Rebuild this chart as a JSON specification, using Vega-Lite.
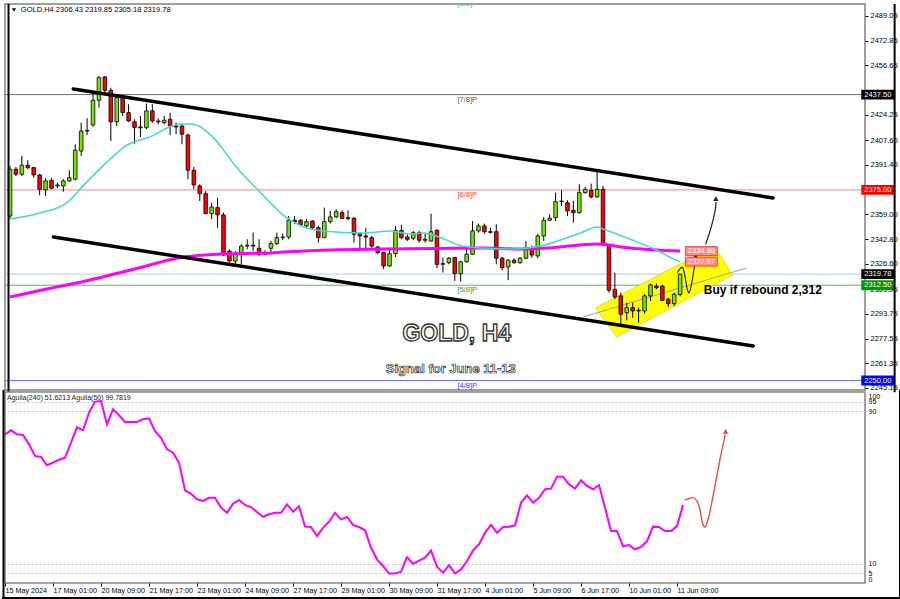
{
"$schema":"https://vega.github.io/schema/vega-lite/v6.json",
"padding":{"left":0,"top":2,"right":0,"bottom":0},
"background":"#ffffff",
"spacing":2,
"bounds":"flush",
"config":{
"view":{"stroke":"#808080","strokeWidth":1.5},
"axis":{"labelFont":"Liberation Sans","labelColor":"#000000","tickColor":"#000000","domain":false,"grid":false,"labelOverlap":false,"labelBound":false},
"text":{"font":"Liberation Sans"}
},
"datasets":{
"candles":[
{"i":0,"o":2357.9,"h":2390.7,"l":2356.0,"c":2388.5},
{"i":1,"o":2388.5,"h":2390.0,"l":2384.1,"c":2385.3},
{"i":2,"o":2385.3,"h":2397.3,"l":2384.1,"c":2391.2},
{"i":3,"o":2391.2,"h":2394.4,"l":2388.5,"c":2389.6},
{"i":4,"o":2389.6,"h":2390.0,"l":2383.0,"c":2384.8},
{"i":5,"o":2384.8,"h":2385.3,"l":2371.5,"c":2375.4},
{"i":6,"o":2375.0,"h":2382.6,"l":2371.0,"c":2380.9},
{"i":7,"o":2381.3,"h":2382.6,"l":2375.4,"c":2376.1},
{"i":8,"o":2377.6,"h":2379.7,"l":2376.1,"c":2378.2},
{"i":9,"o":2377.6,"h":2382.0,"l":2373.8,"c":2380.9},
{"i":10,"o":2380.9,"h":2387.9,"l":2380.4,"c":2383.0},
{"i":11,"o":2382.0,"h":2404.9,"l":2381.3,"c":2401.0},
{"i":12,"o":2400.5,"h":2419.1,"l":2397.3,"c":2413.6},
{"i":13,"o":2413.6,"h":2422.0,"l":2411.0,"c":2414.1},
{"i":14,"o":2417.6,"h":2438.1,"l":2416.3,"c":2433.8},
{"i":15,"o":2433.8,"h":2449.7,"l":2428.9,"c":2448.6},
{"i":16,"o":2449.1,"h":2449.7,"l":2438.8,"c":2440.3},
{"i":17,"o":2440.3,"h":2442.0,"l":2407.1,"c":2419.6},
{"i":18,"o":2419.6,"h":2437.7,"l":2416.9,"c":2435.5},
{"i":19,"o":2435.5,"h":2436.6,"l":2423.5,"c":2425.7},
{"i":20,"o":2425.7,"h":2431.2,"l":2419.7,"c":2420.2},
{"i":21,"o":2419.7,"h":2421.3,"l":2405.3,"c":2415.8},
{"i":22,"o":2416.3,"h":2423.5,"l":2409.7,"c":2415.6},
{"i":23,"o":2415.8,"h":2431.6,"l":2414.8,"c":2426.8},
{"i":24,"o":2426.8,"h":2431.2,"l":2419.1,"c":2420.2},
{"i":25,"o":2419.6,"h":2422.0,"l":2418.0,"c":2420.2},
{"i":26,"o":2419.1,"h":2423.5,"l":2418.0,"c":2420.7},
{"i":27,"o":2421.3,"h":2425.7,"l":2411.0,"c":2416.9},
{"i":28,"o":2416.9,"h":2419.1,"l":2411.5,"c":2416.3},
{"i":29,"o":2416.9,"h":2418.0,"l":2404.9,"c":2411.5},
{"i":30,"o":2411.0,"h":2411.9,"l":2382.0,"c":2387.9},
{"i":31,"o":2387.9,"h":2390.0,"l":2375.4,"c":2378.2},
{"i":32,"o":2377.6,"h":2378.7,"l":2367.7,"c":2372.5},
{"i":33,"o":2372.5,"h":2374.3,"l":2359.0,"c":2359.4},
{"i":34,"o":2359.4,"h":2366.6,"l":2355.8,"c":2363.8},
{"i":35,"o":2363.4,"h":2369.9,"l":2350.2,"c":2358.6},
{"i":36,"o":2358.6,"h":2360.1,"l":2331.7,"c":2332.3},
{"i":37,"o":2334.9,"h":2336.1,"l":2327.3,"c":2328.4},
{"i":38,"o":2328.4,"h":2334.9,"l":2326.2,"c":2333.5},
{"i":39,"o":2333.2,"h":2339.4,"l":2326.2,"c":2338.2},
{"i":40,"o":2338.2,"h":2342.6,"l":2336.1,"c":2338.7},
{"i":41,"o":2338.7,"h":2347.0,"l":2334.9,"c":2338.2},
{"i":42,"o":2336.7,"h":2342.6,"l":2331.7,"c":2332.8},
{"i":43,"o":2332.8,"h":2335.4,"l":2332.3,"c":2333.7},
{"i":44,"o":2336.7,"h":2341.5,"l":2332.8,"c":2339.8},
{"i":45,"o":2339.8,"h":2347.0,"l":2338.9,"c":2343.7},
{"i":46,"o":2343.7,"h":2346.3,"l":2342.0,"c":2344.1},
{"i":47,"o":2344.1,"h":2357.9,"l":2342.6,"c":2355.1},
{"i":48,"o":2355.1,"h":2357.9,"l":2352.5,"c":2354.0},
{"i":49,"o":2355.1,"h":2355.8,"l":2351.4,"c":2352.0},
{"i":50,"o":2351.4,"h":2355.8,"l":2350.2,"c":2354.2},
{"i":51,"o":2354.6,"h":2355.1,"l":2349.2,"c":2350.2},
{"i":52,"o":2350.2,"h":2351.4,"l":2340.4,"c":2343.7},
{"i":53,"o":2343.7,"h":2363.4,"l":2343.3,"c":2354.2},
{"i":54,"o":2354.2,"h":2361.2,"l":2352.9,"c":2357.3},
{"i":55,"o":2357.3,"h":2362.3,"l":2356.4,"c":2360.7},
{"i":56,"o":2360.1,"h":2361.6,"l":2355.8,"c":2356.4},
{"i":57,"o":2356.8,"h":2361.6,"l":2355.1,"c":2356.2},
{"i":58,"o":2356.4,"h":2357.3,"l":2340.4,"c":2345.9},
{"i":59,"o":2346.3,"h":2347.0,"l":2334.9,"c":2344.8},
{"i":60,"o":2344.8,"h":2350.2,"l":2334.9,"c":2344.1},
{"i":61,"o":2343.7,"h":2344.8,"l":2337.1,"c":2338.2},
{"i":62,"o":2337.6,"h":2338.2,"l":2332.8,"c":2333.9},
{"i":63,"o":2333.9,"h":2334.5,"l":2323.0,"c":2325.1},
{"i":64,"o":2325.1,"h":2337.1,"l":2324.5,"c":2333.2},
{"i":65,"o":2333.2,"h":2351.4,"l":2331.0,"c":2348.5},
{"i":66,"o":2348.5,"h":2352.0,"l":2342.6,"c":2343.7},
{"i":67,"o":2344.1,"h":2345.9,"l":2341.5,"c":2342.6},
{"i":68,"o":2343.3,"h":2348.1,"l":2342.0,"c":2347.0},
{"i":69,"o":2347.0,"h":2348.1,"l":2340.4,"c":2342.0},
{"i":70,"o":2342.0,"h":2347.0,"l":2340.4,"c":2342.6},
{"i":71,"o":2341.5,"h":2359.4,"l":2341.1,"c":2347.6},
{"i":72,"o":2348.5,"h":2349.2,"l":2323.6,"c":2326.2},
{"i":73,"o":2326.2,"h":2330.6,"l":2320.8,"c":2326.7},
{"i":74,"o":2327.3,"h":2331.0,"l":2326.2,"c":2330.2},
{"i":75,"o":2330.6,"h":2331.0,"l":2315.3,"c":2320.1},
{"i":76,"o":2320.1,"h":2328.4,"l":2314.8,"c":2327.9},
{"i":77,"o":2327.9,"h":2337.1,"l":2327.3,"c":2332.8},
{"i":78,"o":2332.8,"h":2354.6,"l":2332.3,"c":2348.1},
{"i":79,"o":2348.1,"h":2352.9,"l":2347.0,"c":2351.4},
{"i":80,"o":2351.4,"h":2352.9,"l":2346.3,"c":2347.6},
{"i":81,"o":2347.6,"h":2350.2,"l":2346.3,"c":2347.2},
{"i":82,"o":2347.6,"h":2352.5,"l":2326.2,"c":2330.2},
{"i":83,"o":2330.2,"h":2331.0,"l":2322.3,"c":2324.0},
{"i":84,"o":2324.5,"h":2329.5,"l":2315.8,"c":2328.9},
{"i":85,"o":2328.9,"h":2330.2,"l":2326.6,"c":2327.3},
{"i":86,"o":2327.3,"h":2331.0,"l":2326.6,"c":2330.2},
{"i":87,"o":2330.2,"h":2341.5,"l":2329.5,"c":2337.1},
{"i":88,"o":2337.1,"h":2338.5,"l":2330.5,"c":2332.3},
{"i":89,"o":2331.7,"h":2346.3,"l":2330.2,"c":2344.8},
{"i":90,"o":2344.8,"h":2357.3,"l":2341.5,"c":2355.1},
{"i":91,"o":2355.1,"h":2359.0,"l":2354.6,"c":2356.4},
{"i":92,"o":2356.8,"h":2373.2,"l":2354.6,"c":2367.3},
{"i":93,"o":2367.3,"h":2374.8,"l":2364.5,"c":2367.7},
{"i":94,"o":2366.6,"h":2368.2,"l":2357.9,"c":2361.2},
{"i":95,"o":2361.6,"h":2367.7,"l":2353.5,"c":2360.1},
{"i":96,"o":2360.1,"h":2378.7,"l":2359.4,"c":2373.2},
{"i":97,"o":2373.2,"h":2376.9,"l":2372.5,"c":2375.4},
{"i":98,"o":2374.8,"h":2379.1,"l":2369.5,"c":2370.4},
{"i":99,"o":2370.4,"h":2387.4,"l":2369.9,"c":2375.4},
{"i":100,"o":2375.4,"h":2377.6,"l":2338.2,"c":2339.4},
{"i":101,"o":2338.9,"h":2339.4,"l":2307.6,"c":2309.2},
{"i":102,"o":2309.8,"h":2320.7,"l":2303.3,"c":2304.8},
{"i":103,"o":2305.5,"h":2307.6,"l":2286.9,"c":2293.5},
{"i":104,"o":2294.5,"h":2301.1,"l":2289.5,"c":2297.8},
{"i":105,"o":2297.8,"h":2301.1,"l":2291.2,"c":2295.6},
{"i":106,"o":2295.6,"h":2297.8,"l":2287.9,"c":2296.1},
{"i":107,"o":2295.6,"h":2306.6,"l":2293.9,"c":2305.5},
{"i":108,"o":2305.5,"h":2313.5,"l":2302.2,"c":2312.7},
{"i":109,"o":2312.0,"h":2313.5,"l":2309.8,"c":2310.9},
{"i":110,"o":2312.0,"h":2312.7,"l":2302.2,"c":2302.6},
{"i":111,"o":2303.3,"h":2304.3,"l":2298.2,"c":2300.4},
{"i":112,"o":2300.4,"h":2307.6,"l":2298.9,"c":2306.6},
{"i":113,"o":2306.43,"h":2319.85,"l":2305.18,"c":2319.78}
],
"cyan":[
{"i":0,"p":2356.0},{"i":5,"p":2359.9},{"i":9.5,"p":2366.4},{"i":12.8,"p":2379.6},{"i":16.2,"p":2392.7},{"i":19.5,"p":2403.8},{"i":24,"p":2410.4},{"i":27.3,"p":2416.9},{"i":29,"p":2418.2},{"i":30.7,"p":2418.2},{"i":34,"p":2410.4},{"i":38.3,"p":2389.4},{"i":42.3,"p":2373.0},{"i":46.7,"p":2356.6},{"i":49.5,"p":2350.7},{"i":52.8,"p":2348.1},{"i":59.5,"p":2346.8},{"i":64.5,"p":2348.1},{"i":67.3,"p":2346.1},{"i":69.5,"p":2346.8},{"i":72.8,"p":2343.5},{"i":76.2,"p":2338.2},{"i":79.5,"p":2336.9},{"i":85,"p":2336.3},{"i":89.5,"p":2338.2},{"i":93.3,"p":2342.8},{"i":96.2,"p":2346.8},{"i":99,"p":2350.7},{"i":100,"p":2349.4},{"i":104.5,"p":2342.8},{"i":109,"p":2335.6},{"i":112.3,"p":2329.0},{"i":113,"p":2327.97}
],
"ma200":[
{"i":0,"p":2304.8},{"i":6.2,"p":2310.0},{"i":12.8,"p":2315.3},{"i":21.7,"p":2323.8},{"i":28.3,"p":2330.4},{"i":35.7,"p":2333.0},{"i":44,"p":2333.7},{"i":49.5,"p":2335.0},{"i":62.8,"p":2336.3},{"i":79.5,"p":2336.9},{"i":86.2,"p":2336.3},{"i":90.7,"p":2336.9},{"i":99,"p":2339.6},{"i":104.5,"p":2336.9},{"i":113,"p":2334.86}
],
"levels":[
{"name":"7/8","price":2437.5,"label":"2437.50"},
{"name":"6/8","price":2375.0,"label":"2375.00"},
{"name":"bid","price":2319.78,"label":"2319.78"},
{"name":"5/8","price":2312.5,"label":"2312.50"},
{"name":"4/8","price":2250.0,"label":"2250.00"}
],
"murrey":[
{"name":"8/8","price":2500.0,"label":"[8/8]P"},
{"name":"7/8","price":2437.5,"label":"[7/8]P"},
{"name":"6/8","price":2375.0,"label":"[6/8]P"},
{"name":"5/8","price":2312.5,"label":"[5/8]P"},
{"name":"4/8","price":2250.0,"label":"[4/8]P"}
],
"yellow":[
{"i":98.67,"top":2297.6,"bot":2297.6},{"i":102.33,"top":2305.0,"bot":2278.6},{"i":118.83,"top":2338.2,"bot":2313.0},{"i":121.83,"top":2319.2,"bot":2319.2}
],
"guide":[{"i":96.7,"p":2291.7},{"i":124.2,"p":2323.8}],
"channels":[
{"line":"upper","i":10.67,"p":2441.2},{"line":"upper","i":128.67,"p":2369.7},
{"line":"lower","i":7.33,"p":2344.1},{"line":"lower","i":125.33,"p":2272.7}
],
"arrows":[
{"arrow":"a","i":112.55,"p":2320.7},{"arrow":"a","i":113.5,"p":2323.6},{"arrow":"a","i":114.5,"p":2307.6},{"arrow":"a","i":115.6,"p":2330.0},
{"arrow":"b","i":117.3,"p":2339.3},{"arrow":"b","i":118.2,"p":2350.0},{"arrow":"b","i":118.9,"p":2361.2},{"arrow":"b","i":119.05,"p":2367.0}
],
"heads":[{"i":115.62,"p":2331.5},{"i":119.03,"p":2369.3}],
"malabels":[{"label":"2334.86","p":2334.86},{"label":"2327.97","p":2327.97}],
"aguila":[
{"i":0,"v":78.0},{"i":1,"v":80.1},{"i":2,"v":78.0},{"i":3,"v":77.6},{"i":4,"v":72.7},{"i":5,"v":66.6},{"i":6,"v":66.1},{"i":7,"v":61.7},{"i":8,"v":63.1},{"i":9,"v":64.6},
{"i":10,"v":65.7},{"i":11,"v":73.6},{"i":12,"v":81.8},{"i":13,"v":80.1},{"i":14,"v":89.4},{"i":15,"v":95.2},{"i":16,"v":95.5},{"i":17,"v":83.3},{"i":18,"v":91.2},{"i":19,"v":88.0},
{"i":20,"v":84.5},{"i":21,"v":84.5},{"i":22,"v":84.5},{"i":23,"v":85.9},{"i":24,"v":86.4},{"i":25,"v":79.7},{"i":26,"v":76.2},{"i":27,"v":70.1},{"i":28,"v":68.3},{"i":29,"v":63.1},
{"i":30,"v":48.5},{"i":31,"v":46.7},{"i":32,"v":43.8},{"i":33,"v":42.9},{"i":34,"v":44.6},{"i":35,"v":44.6},{"i":36,"v":39.4},{"i":37,"v":36.7},{"i":38,"v":41.5},{"i":39,"v":43.4},
{"i":40,"v":40.8},{"i":41,"v":39.7},{"i":42,"v":37.1},{"i":43,"v":34.6},{"i":44,"v":35.9},{"i":45,"v":36.7},{"i":46,"v":36.7},{"i":47,"v":41.1},{"i":48,"v":37.3},{"i":49,"v":40.1},
{"i":50,"v":29.4},{"i":51,"v":29.2},{"i":52,"v":24.5},{"i":53,"v":28.8},{"i":54,"v":32.0},{"i":55,"v":36.7},{"i":56,"v":33.2},{"i":57,"v":34.5},{"i":58,"v":30.3},{"i":59,"v":29.2},
{"i":60,"v":27.6},{"i":61,"v":18.3},{"i":62,"v":12.2},{"i":63,"v":8.7},{"i":64,"v":4.8},{"i":65,"v":4.8},{"i":66,"v":5.7},{"i":67,"v":13.4},{"i":68,"v":9.9},{"i":69,"v":11.5},
{"i":70,"v":13.1},{"i":71,"v":16.9},{"i":72,"v":8.3},{"i":73,"v":5.2},{"i":74,"v":9.1},{"i":75,"v":4.8},{"i":76,"v":6.9},{"i":77,"v":11.3},{"i":78,"v":16.9},{"i":79,"v":20.1},
{"i":80,"v":26.2},{"i":81,"v":30.3},{"i":82,"v":26.2},{"i":83,"v":29.2},{"i":84,"v":29.4},{"i":85,"v":30.1},{"i":86,"v":42.0},{"i":87,"v":45.9},{"i":88,"v":42.0},{"i":89,"v":44.6},
{"i":90,"v":49.1},{"i":91,"v":49.4},{"i":92,"v":55.7},{"i":93,"v":55.7},{"i":94,"v":51.7},{"i":95,"v":49.4},{"i":96,"v":53.8},{"i":97,"v":50.8},{"i":98,"v":49.1},{"i":99,"v":51.3},
{"i":100,"v":39.4},{"i":101,"v":27.1},{"i":102,"v":27.1},{"i":103,"v":19.2},{"i":104,"v":19.7},{"i":105,"v":17.5},{"i":106,"v":18.7},{"i":107,"v":21.8},{"i":108,"v":29.4},{"i":109,"v":29.2},
{"i":110,"v":27.1},{"i":111,"v":27.1},{"i":112,"v":29.7},{"i":113,"v":40.8}
],
"redarrow":[
{"i":113.3,"v":43.3},{"i":114.8,"v":44.6},{"i":115.67,"v":40.3},{"i":116.17,"v":32.4},{"i":116.67,"v":29.2},{"i":117.33,"v":35.0},{"i":118.33,"v":50.8},{"i":119.17,"v":65.0},{"i":120.05,"v":78.0}
]
},
"vconcat":[
{
"width":860,"height":386,
"resolve":{"scale":{"fill":"independent","stroke":"independent"},"axis":{"x":"independent","y":"independent"}},
"layer":[
{"data":{"name":"levels"},"mark":{"type":"rule","strokeWidth":1},
"encoding":{
"y":{"field":"price","type":"quantitative","scale":{"domain":[2243.8,2496.9],"nice":false,"zero":false},
"axis":{"orient":"right","title":null,"values":[2489.05,2472.85,2456.65,2424.25,2407.6,2391.4,2359.0,2342.8,2326.6,2309.95,2293.75,2277.55,2261.35,2245.15],"format":".2f","labelFontSize":7.5,"tickSize":3,"labelPadding":2,"labelFlush":false}},
"stroke":{"field":"name","type":"nominal","scale":{"domain":["7/8","6/8","bid","5/8","4/8"],"range":["#6e6e6e","#ff7f7f","#b8c8dc","#5cb85c","#6a6aff"]},"legend":null}}},
{"data":{"name":"yellow"},"mark":{"type":"area","fill":"#ffff00","stroke":"#c9c900","strokeWidth":0.6,"opacity":1},
"encoding":{"x":{"field":"i","type":"quantitative","scale":{"domain":[0,143.333],"nice":false,"zero":false},"axis":null},
"y":{"field":"top","type":"quantitative","scale":{"domain":[2243.8,2496.9],"nice":false,"zero":false},"axis":null},"y2":{"field":"bot"}}},
{"data":{"name":"guide"},"mark":{"type":"line","color":"#a0a0a0","strokeWidth":1},
"encoding":{"x":{"field":"i","type":"quantitative","scale":{"domain":[0,143.333],"nice":false,"zero":false},"axis":null},
"y":{"field":"p","type":"quantitative","scale":{"domain":[2243.8,2496.9],"nice":false,"zero":false},"axis":null}}},
{"data":{"name":"candles"},"mark":{"type":"rule","color":"#000000","strokeWidth":1},
"encoding":{"x":{"field":"i","type":"quantitative","scale":{"domain":[0,143.333],"nice":false,"zero":false},"axis":null},
"y":{"field":"l","type":"quantitative","scale":{"domain":[2243.8,2496.9],"nice":false,"zero":false},"axis":null},"y2":{"field":"h"}}},
{"data":{"name":"candles"},"mark":{"type":"bar","width":3.6,"stroke":"#000000","strokeWidth":0.8},
"encoding":{"x":{"field":"i","type":"quantitative","scale":{"domain":[0,143.333],"nice":false,"zero":false},"axis":null},
"y":{"field":"o","type":"quantitative","scale":{"domain":[2243.8,2496.9],"nice":false,"zero":false},"axis":null},"y2":{"field":"c"},
"fill":{"condition":{"test":"datum.c >= datum.o","value":"#74e600"},"value":"#ff0000"}}},
{"data":{"name":"ma200"},"mark":{"type":"line","color":"#ff00ff","strokeWidth":3,"interpolate":"monotone"},
"encoding":{"x":{"field":"i","type":"quantitative","scale":{"domain":[0,143.333],"nice":false,"zero":false},"axis":null},
"y":{"field":"p","type":"quantitative","scale":{"domain":[2243.8,2496.9],"nice":false,"zero":false},"axis":null}}},
{"data":{"name":"cyan"},"mark":{"type":"line","color":"#3fd9d0","strokeWidth":1.5,"interpolate":"monotone"},
"encoding":{"x":{"field":"i","type":"quantitative","scale":{"domain":[0,143.333],"nice":false,"zero":false},"axis":null},
"y":{"field":"p","type":"quantitative","scale":{"domain":[2243.8,2496.9],"nice":false,"zero":false},"axis":null}}},
{"data":{"name":"channels"},"mark":{"type":"line","color":"#000000","strokeWidth":3.5,"strokeCap":"round"},
"encoding":{"x":{"field":"i","type":"quantitative","scale":{"domain":[0,143.333],"nice":false,"zero":false},"axis":null},
"y":{"field":"p","type":"quantitative","scale":{"domain":[2243.8,2496.9],"nice":false,"zero":false},"axis":null},"detail":{"field":"line"}}},
{"data":{"name":"arrows"},"mark":{"type":"line","color":"#222222","strokeWidth":1.2,"interpolate":"cardinal"},
"encoding":{"x":{"field":"i","type":"quantitative","scale":{"domain":[0,143.333],"nice":false,"zero":false},"axis":null},
"y":{"field":"p","type":"quantitative","scale":{"domain":[2243.8,2496.9],"nice":false,"zero":false},"axis":null},"detail":{"field":"arrow"}}},
{"data":{"name":"heads"},"mark":{"type":"point","shape":"triangle-up","filled":true,"color":"#222222","size":28,"opacity":1},
"encoding":{"x":{"field":"i","type":"quantitative","scale":{"domain":[0,143.333],"nice":false,"zero":false},"axis":null},
"y":{"field":"p","type":"quantitative","scale":{"domain":[2243.8,2496.9],"nice":false,"zero":false},"axis":null}}},
{"data":{"name":"murrey"},"mark":{"type":"text","fontSize":7.5,"baseline":"top","dy":1,"align":"center","clip":true},
"encoding":{"x":{"datum":77.1,"type":"quantitative","scale":{"domain":[0,143.333],"nice":false,"zero":false},"axis":null},
"y":{"field":"price","type":"quantitative","scale":{"domain":[2243.8,2496.9],"nice":false,"zero":false},"axis":null},
"text":{"field":"label"},
"fill":{"field":"name","type":"nominal","scale":{"domain":["8/8","7/8","6/8","5/8","4/8"],"range":["#3ccfcf","#555555","#ff4040","#30a030","#3535ff"]},"legend":null}}},
{"data":{"name":"malabels"},"mark":{"type":"point","shape":"M-1,-0.28L1,-0.28L1,0.28L-1,0.28Z","size":1024,"filled":true,"fill":"#ff8c8c","stroke":"#ff2020","strokeWidth":0.8,"opacity":1},
"encoding":{"x":{"datum":116.58,"type":"quantitative","scale":{"domain":[0,143.333],"nice":false,"zero":false},"axis":null},
"y":{"field":"p","type":"quantitative","scale":{"domain":[2243.8,2496.9],"nice":false,"zero":false},"axis":null}}},
{"data":{"name":"malabels"},"mark":{"type":"text","fontSize":7.5,"fill":"#ffffff","align":"center","baseline":"middle"},
"encoding":{"x":{"datum":116.58,"type":"quantitative","scale":{"domain":[0,143.333],"nice":false,"zero":false},"axis":null},
"y":{"field":"p","type":"quantitative","scale":{"domain":[2243.8,2496.9],"nice":false,"zero":false},"axis":null},"text":{"field":"label"}}},
{"data":{"values":[{"t":"GOLD, H4"}]},"mark":{"type":"text","fontWeight":"bold","fontSize":23,"fill":"#ffffff","stroke":"#333333","strokeWidth":1.3,"align":"center","baseline":"middle"},
"encoding":{"x":{"datum":75.33,"type":"quantitative","scale":{"domain":[0,143.333],"nice":false,"zero":false},"axis":null},
"y":{"datum":2280.5,"type":"quantitative","scale":{"domain":[2243.8,2496.9],"nice":false,"zero":false},"axis":null},"text":{"field":"t"}}},
{"data":{"values":[{"t":"Signal for June 11-13"}]},"mark":{"type":"text","fontWeight":"bold","fontSize":13,"fill":"#ffffff","stroke":"#333333","strokeWidth":0.7,"align":"center","baseline":"middle"},
"encoding":{"x":{"datum":74.33,"type":"quantitative","scale":{"domain":[0,143.333],"nice":false,"zero":false},"axis":null},
"y":{"datum":2257.6,"type":"quantitative","scale":{"domain":[2243.8,2496.9],"nice":false,"zero":false},"axis":null},"text":{"field":"t"}}},
{"data":{"values":[{"t":"Buy if rebound 2,312"}]},"mark":{"type":"text","fontWeight":"bold","fontSize":12,"fill":"#000000","align":"left","baseline":"middle"},
"encoding":{"x":{"datum":117,"type":"quantitative","scale":{"domain":[0,143.333],"nice":false,"zero":false},"axis":null},
"y":{"datum":2309.4,"type":"quantitative","scale":{"domain":[2243.8,2496.9],"nice":false,"zero":false},"axis":null},"text":{"field":"t"}}},
{"data":{"values":[{"t":"GOLD,H4  2306.43 2319.85 2305.18 2319.78"}]},"mark":{"type":"text","fontSize":7.5,"fill":"#000000","align":"left","baseline":"middle"},
"encoding":{"x":{"datum":1.83,"type":"quantitative","scale":{"domain":[0,143.333],"nice":false,"zero":false},"axis":null},
"y":{"datum":2493.0,"type":"quantitative","scale":{"domain":[2243.8,2496.9],"nice":false,"zero":false},"axis":null},"text":{"field":"t"}}},
{"data":{"values":[{}]},"mark":{"type":"point","shape":"triangle-down","filled":true,"color":"#000000","size":16,"opacity":1},
"encoding":{"x":{"datum":0.67,"type":"quantitative","scale":{"domain":[0,143.333],"nice":false,"zero":false},"axis":null},
"y":{"datum":2493.0,"type":"quantitative","scale":{"domain":[2243.8,2496.9],"nice":false,"zero":false},"axis":null}}},
{"data":{"name":"levels"},"mark":{"type":"point","shape":"M-1,-0.3L1,-0.3L1,0.3L-1,0.3Z","size":1089,"filled":true,"opacity":1,"clip":false},
"encoding":{"x":{"datum":146.33,"type":"quantitative","scale":{"domain":[0,143.333],"nice":false,"zero":false},"axis":null},
"y":{"field":"price","type":"quantitative","scale":{"domain":[2243.8,2496.9],"nice":false,"zero":false},"axis":null},
"fill":{"field":"name","type":"nominal","scale":{"domain":["7/8","6/8","bid","5/8","4/8"],"range":["#000000","#ff0000","#000000","#009900","#0000ff"]},"legend":null}}},
{"data":{"name":"levels"},"mark":{"type":"text","fontSize":7.5,"fill":"#ffffff","align":"center","baseline":"middle"},
"encoding":{"x":{"datum":146.33,"type":"quantitative","scale":{"domain":[0,143.333],"nice":false,"zero":false},"axis":null},
"y":{"field":"price","type":"quantitative","scale":{"domain":[2243.8,2496.9],"nice":false,"zero":false},"axis":null},"text":{"field":"label"}}},
{"data":{"values":[{"k":"left","x":-0.25},{"k":"right","x":149.17}]},"mark":{"type":"rule","color":"#000000","strokeWidth":2},
"encoding":{"x":{"field":"x","type":"quantitative","scale":{"domain":[0,143.333],"nice":false,"zero":false},"axis":null},
"y":{"datum":2496.9,"type":"quantitative","scale":{"domain":[2243.8,2496.9],"nice":false,"zero":false},"axis":null},"y2":{"datum":2242.3}}}
]
},
{
"width":860,"height":191,
"resolve":{"axis":{"x":"independent","y":"independent"}},
"layer":[
{"data":{"name":"aguila"},"mark":{"type":"line","color":"#ff00ff","strokeWidth":2},
"encoding":{"x":{"field":"i","type":"quantitative","scale":{"domain":[0,143.333],"nice":false,"zero":false},
"axis":{"orient":"bottom","title":null,"values":[0,8,16,24,32,40,48,56,64,72,80,88,96,104,112],"labelExpr":"['15 May 2024','17 May 01:00','20 May 09:00','21 May 17:00','23 May 01:00','24 May 09:00','27 May 17:00','29 May 01:00','30 May 09:00','31 May 17:00','4 Jun 01:00','5 Jun 09:00','6 Jun 17:00','10 Jun 01:00','11 Jun 09:00'][round(datum.value/8)]","labelAlign":"left","labelFontSize":7.2,"tickSize":3,"labelPadding":0,"labelFlush":false}},
"y":{"field":"v","type":"quantitative","scale":{"domain":[-0.26,100.26],"nice":false,"zero":false},
"axis":{"orient":"right","title":null,"values":[0,5,10,90,95,100],"labelFontSize":7,"tickSize":0,"labelPadding":3,"grid":true,"gridDash":[2,2],"gridColor":"#b4b4b4","gridWidth":0.8,"labelFlush":true}}}},
{"data":{"name":"redarrow"},"mark":{"type":"line","color":"#e8463c","strokeWidth":1.3,"interpolate":"cardinal"},
"encoding":{"x":{"field":"i","type":"quantitative","scale":{"domain":[0,143.333],"nice":false,"zero":false},"axis":null},
"y":{"field":"v","type":"quantitative","scale":{"domain":[-0.26,100.26],"nice":false,"zero":false},"axis":null}}},
{"data":{"values":[{}]},"mark":{"type":"point","shape":"triangle-up","filled":true,"color":"#e8463c","size":30,"opacity":1},
"encoding":{"x":{"datum":120.1,"type":"quantitative","scale":{"domain":[0,143.333],"nice":false,"zero":false},"axis":null},
"y":{"datum":79.5,"type":"quantitative","scale":{"domain":[-0.26,100.26],"nice":false,"zero":false},"axis":null}}},
{"data":{"values":[{"t":"Aguila(240) 51.6213  Aguila(50) 99.7819"}]},"mark":{"type":"text","fontSize":7,"fill":"#222222","align":"left","baseline":"middle"},
"encoding":{"x":{"datum":0.33,"type":"quantitative","scale":{"domain":[0,143.333],"nice":false,"zero":false},"axis":null},
"y":{"datum":97.1,"type":"quantitative","scale":{"domain":[-0.26,100.26],"nice":false,"zero":false},"axis":null},"text":{"field":"t"}}},
{"data":{"values":[{"k":"left","x":-0.25},{"k":"right","x":149.17}]},"mark":{"type":"rule","color":"#000000","strokeWidth":2},
"encoding":{"x":{"field":"x","type":"quantitative","scale":{"domain":[0,143.333],"nice":false,"zero":false},"axis":null},
"y":{"datum":101.4,"type":"quantitative","scale":{"domain":[-0.26,100.26],"nice":false,"zero":false},"axis":null},"y2":{"datum":-8.7}}},
{"data":{"values":[{}]},"mark":{"type":"rule","color":"#000000","strokeWidth":2},
"encoding":{"x":{"datum":-0.5,"type":"quantitative","scale":{"domain":[0,143.333],"nice":false,"zero":false},"axis":null},"x2":{"datum":149.33},
"y":{"datum":-8.2,"type":"quantitative","scale":{"domain":[-0.26,100.26],"nice":false,"zero":false},"axis":null}}}
]
}
]
}
